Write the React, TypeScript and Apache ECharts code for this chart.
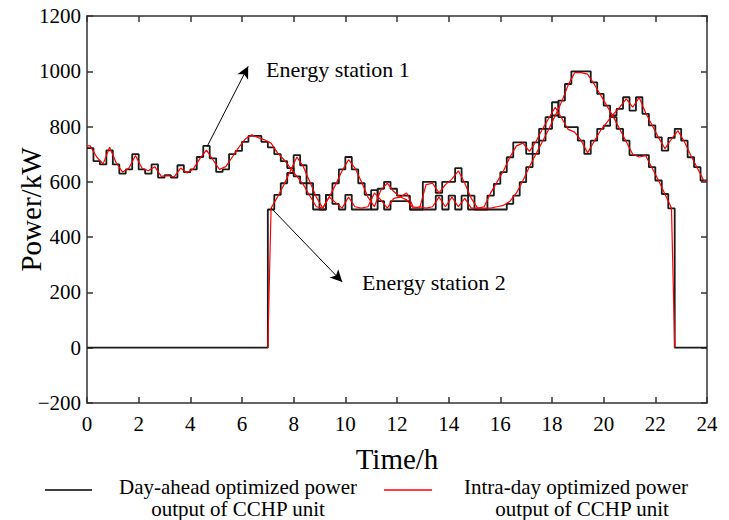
import React, { useEffect, useRef } from "react";
import * as echarts from "echarts";

// Time axis: quarter-hour boundaries 0 .. 24 h
const quarterHours = Array.from({ length: 97 }, (_, i) => i * 0.25);
const quarterMids = Array.from({ length: 96 }, (_, i) => i * 0.25 + 0.125);

// Energy station 1, day-ahead (held over each quarter hour), kW
const dayAheadStation1 = [
  722, 675, 663, 714, 663, 630, 645, 700, 645, 630, 663, 615,
  624, 615, 660, 635, 645, 690, 730, 685, 636, 645, 700, 712,
  745, 766, 766, 745, 725, 700, 675, 650, 620, 595, 555, 500,
  500, 553, 595, 645, 690, 645, 595, 553, 500, 575, 600, 575,
  550, 550, 500, 500, 600, 600, 560, 600, 600, 650, 600, 550,
  500, 500, 550, 593, 635, 689, 743, 743, 701, 743, 792, 834,
  888, 834, 798, 798, 749, 701, 749, 792, 803, 840, 864, 906,
  858, 906, 846, 804, 761, 713, 759, 792, 749, 689, 653, 605,
];

// Energy station 1, intra-day (quarter-hour midpoints), kW
const intraDayStation1 = [
  730, 690, 665, 725, 670, 635, 650, 695, 650, 640, 655, 620,
  622, 618, 650, 632, 648, 685, 715, 680, 645, 655, 690, 725,
  755, 770, 760, 752, 740, 705, 680, 650, 620, 590, 550, 510,
  505, 545, 590, 640, 680, 650, 600, 545, 510, 570, 595, 565,
  545, 560, 510, 505, 590, 595, 560, 590, 610, 640, 595, 540,
  505, 510, 560, 600, 640, 690, 730, 740, 710, 745, 790, 830,
  870, 830, 790, 780, 750, 705, 745, 785, 815, 845, 870, 900,
  870, 905, 850, 805, 760, 720, 755, 785, 745, 695, 650, 605,
];

// Energy station 2, day-ahead (held over each quarter hour), kW
const dayAheadStation2 = [
  0, 0, 0, 0, 0, 0, 0, 0, 0, 0, 0, 0,
  0, 0, 0, 0, 0, 0, 0, 0, 0, 0, 0, 0,
  0, 0, 0, 0, 500, 553, 595, 632, 697, 660, 595, 553,
  500, 553, 520, 500, 553, 500, 500, 500, 570, 530, 500, 530,
  530, 530, 500, 500, 500, 500, 550, 500, 550, 500, 550, 500,
  500, 500, 500, 500, 500, 520, 550, 599, 653, 701, 749, 792,
  840, 894, 954, 1000, 1000, 1000, 960, 918, 876, 834, 792, 749,
  697, 697, 697, 653, 605, 556, 504, 0, 0, 0, 0, 0,
];

// Energy station 2, intra-day (quarter-hour midpoints, 7.0 h .. 22.75 h), kW
const intraDayStation2 = [
  505, 545, 590, 640, 690, 655, 600, 545,
  505, 545, 525, 505, 545, 510, 505, 510, 560, 535, 505, 540,
  545, 535, 505, 510, 505, 510, 545, 510, 545, 510, 540, 505,
  505, 505, 505, 510, 515, 530, 560, 605, 655, 700, 745, 790,
  840, 890, 950, 995, 995, 990, 955, 915, 875, 835, 790, 745,
  700, 690, 695, 650, 605, 555, 505,
];
const station2StartHour = 7;
const station2StopHour = 22.75;
const station2FirstQuarter = 28;

const yTicks = { min: -200, max: 1200, step: 200 };
const xTicks = { min: 0, max: 24, step: 2 };

const FONT = "Liberation Serif";
const AXIS_COLOR = "#333";

export default function App() {
  const ref = useRef<HTMLDivElement>(null);

  useEffect(() => {
    if (!ref.current) return;
    const chart = echarts.init(ref.current, undefined, { renderer: "svg" });

    const black1 = quarterHours.map((t, i) => [t, dayAheadStation1[Math.min(i, 95)]]);
    const black2 = quarterHours.map((t, i) => [t, dayAheadStation2[Math.min(i, 95)]]);
    const red1: number[][] = [[0, intraDayStation1[0]]];
    quarterMids.forEach((t, i) => red1.push([t, intraDayStation1[i]]));
    red1.push([24, intraDayStation1[95]]);
    const red2: number[][] = [[station2StartHour, 0]];
    intraDayStation2.forEach((v, k) => red2.push([quarterMids[station2FirstQuarter + k], v]));
    red2.push([station2StopHour, 0]);

    const axisLine = { show: true, onZero: false, lineStyle: { color: AXIS_COLOR, width: 1.5 } };
    const axisTick = { show: true, inside: true, length: 6, lineStyle: { color: AXIS_COLOR, width: 1.5 } };

    chart.setOption({
      animation: false,
      backgroundColor: "#fff",
      grid: {
        left: 87,
        right: 22,
        top: 16,
        bottom: 117,
        containLabel: false,
        outerBoundsMode: "none",
      },
      xAxis: [
        {
          type: "value",
          min: xTicks.min,
          max: xTicks.max,
          interval: xTicks.step,
          position: "bottom",
          axisLine,
          axisTick,
          splitLine: { show: false },
          axisLabel: { fontFamily: FONT, fontSize: 21, color: "#000", margin: 10 },
          name: "Time/h",
          nameLocation: "middle",
          nameGap: 41,
          nameMoveOverlap: false,
          nameTextStyle: { fontFamily: FONT, fontSize: 29, color: "#000" },
        },
        {
          type: "value",
          min: xTicks.min,
          max: xTicks.max,
          interval: xTicks.step,
          position: "top",
          axisLine,
          axisTick,
          splitLine: { show: false },
          axisLabel: { show: false },
        },
      ],
      yAxis: [
        {
          type: "value",
          min: yTicks.min,
          max: yTicks.max,
          interval: yTicks.step,
          position: "left",
          axisLine,
          axisTick,
          splitLine: { show: false },
          axisLabel: {
            fontFamily: FONT,
            fontSize: 21,
            color: "#000",
            margin: 6,
            formatter: (v: number) => (v < 0 ? "\u2212" + Math.abs(v) : String(v)),
          },
          name: "Power/kW",
          nameLocation: "middle",
          nameGap: 42,
          nameMoveOverlap: false,
          nameTextStyle: { fontFamily: FONT, fontSize: 29, color: "#000" },
        },
        {
          type: "value",
          min: yTicks.min,
          max: yTicks.max,
          interval: yTicks.step,
          position: "right",
          axisLine,
          axisTick,
          splitLine: { show: false },
          axisLabel: { show: false },
        },
      ],
      series: [
        {
          name: "Day-ahead station 1",
          type: "line",
          step: "end",
          data: black1,
          showSymbol: false,
          lineStyle: { color: "#1a1a1a", width: 1.8 },
          z: 2,
          markLine: {
            silent: true,
            symbol: ["none", "arrow"],
            symbolSize: [9, 12],
            lineStyle: { color: "#000", width: 1, type: "solid" },
            label: { show: false },
            data: [
              [{ coord: [4.65, 728] }, { coord: [6.24, 1018] }],
              [{ coord: [7.13, 505] }, { coord: [9.88, 238] }],
            ],
          },
        },
        {
          name: "Day-ahead station 2",
          type: "line",
          step: "end",
          data: black2,
          showSymbol: false,
          lineStyle: { color: "#1a1a1a", width: 1.8 },
          z: 2,
        },
        {
          name: "Intra-day station 1",
          type: "line",
          data: red1,
          showSymbol: false,
          lineStyle: { color: "#ff0000", width: 1.2 },
          z: 3,
        },
        {
          name: "Intra-day station 2",
          type: "line",
          data: red2,
          showSymbol: false,
          lineStyle: { color: "#ff0000", width: 1.2 },
          z: 3,
        },
      ],
      graphic: [
        {
          type: "text",
          left: 266,
          top: 58,
          style: { text: "Energy station 1", fontFamily: FONT, fontSize: 22, fill: "#000" },
        },
        {
          type: "text",
          left: 362,
          top: 271,
          style: { text: "Energy station 2", fontFamily: FONT, fontSize: 22, fill: "#000" },
        },
        {
          type: "line",
          shape: { x1: 45, y1: 490, x2: 92, y2: 490 },
          style: { stroke: "#000", lineWidth: 1.5 },
        },
        {
          type: "text",
          x: 238,
          y: 487,
          style: {
            text: "Day-ahead optimized power",
            fontFamily: FONT,
            fontSize: 21,
            fill: "#000",
            align: "center",
            verticalAlign: "middle",
          },
        },
        {
          type: "text",
          x: 238,
          y: 509,
          style: {
            text: "output of CCHP unit",
            fontFamily: FONT,
            fontSize: 21,
            fill: "#000",
            align: "center",
            verticalAlign: "middle",
          },
        },
        {
          type: "line",
          shape: { x1: 384, y1: 490, x2: 432, y2: 490 },
          style: { stroke: "#ff0000", lineWidth: 1.5 },
        },
        {
          type: "text",
          x: 576,
          y: 487,
          style: {
            text: "Intra-day optimized power",
            fontFamily: FONT,
            fontSize: 21,
            fill: "#000",
            align: "center",
            verticalAlign: "middle",
          },
        },
        {
          type: "text",
          x: 582,
          y: 509,
          style: {
            text: "output of CCHP unit",
            fontFamily: FONT,
            fontSize: 21,
            fill: "#000",
            align: "center",
            verticalAlign: "middle",
          },
        },
      ],
    });

    return () => chart.dispose();
  }, []);

  return (
    <div
      ref={ref}
      style={{ position: "fixed", left: 0, top: 0, width: 729, height: 520, background: "#fff" }}
    />
  );
}
